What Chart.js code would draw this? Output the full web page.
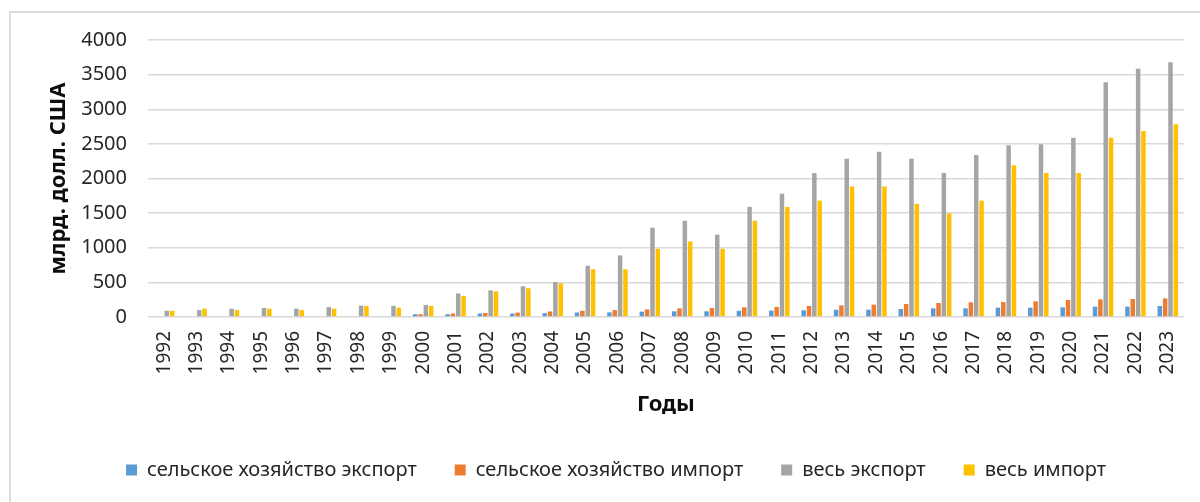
<!DOCTYPE html>
<html>
<head>
<meta charset="utf-8">
<script src="https://cdn.jsdelivr.net/npm/chart.js@4/dist/chart.umd.min.js"></script>
<style>
  html, body { margin: 0; padding: 0; background: #fff; overflow: hidden; }
  #wrap { position: relative; width: 1200px; height: 502px; }
  #frame { position: absolute; left: 9px; top: 11px; width: 1300px; height: 600px;
           border-left: 2px solid #dcdcdc; border-top: 2px solid #dcdcdc; }
  #chart { position: absolute; left: 0; top: 0; }
</style>
</head>
<body>
<div id="wrap">
  <div id="frame"></div>
  <canvas id="chart" width="1200" height="502"></canvas>
</div>
<script>
const years = ['1992', '1993', '1994', '1995', '1996', '1997', '1998', '1999', '2000', '2001',
  '2002', '2003', '2004', '2005', '2006', '2007', '2008', '2009', '2010', '2011',
  '2012', '2013', '2014', '2015', '2016', '2017', '2018', '2019', '2020', '2021', '2022', '2023'];

const agroExport = [null, null, null, null, null, null, null, null, 40, 40,
  50, 50, 55, 65, 67, 77, 82, 82, 90, 92,
  96, 106, 106, 115, 125, 125, 135, 135, 140, 149, 149, 159];

const agroImport = [null, null, null, null, null, null, null, null, 40, 50,
  58, 63, 80, 90, 100, 110, 125, 130, 140, 145,
  160, 168, 178, 188, 202, 212, 216, 226, 245, 255, 260, 269];

const totalExport = [90, 100, 120, 130, 120, 145, 165, 160, 175, 340,
  385, 443, 506, 740, 890, 1290, 1390, 1190, 1590, 1780,
  2080, 2285, 2385, 2285, 2080, 2340, 2480, 2495, 2590, 3390, 3585, 3680];

const totalImport = [90, 120, 100, 120, 100, 120, 160, 135, 160, 305,
  370, 415, 486, 690, 690, 985, 1090, 985, 1390, 1590,
  1680, 1885, 1885, 1635, 1495, 1680, 2190, 2080, 2080, 2590, 2685, 2785];

const yTicks = [0, 500, 1000, 1500, 2000, 2500, 3000, 3500, 4000];

const FONT = '"Noto Sans", "Open Sans", sans-serif';

function series(label, data, color) {
  return {
    label: label,
    data: data,
    backgroundColor: color,
    borderWidth: 0,
    categoryPercentage: 0.66,
    barPercentage: 0.84
  };
}

// legend in the original sits a bit right of the canvas centre
const legendShift = {
  id: 'legendShift',
  afterLayout(chart) {
    chart.legend.left += 24;
    chart.legend.right += 24;
  }
};

new Chart(document.getElementById('chart'), {
  type: 'bar',
  data: {
    labels: years,
    datasets: [
      series('сельское хозяйство экспорт', agroExport, '#5b9bd5'),
      series('сельское хозяйство импорт', agroImport, '#ed7d31'),
      series('весь экспорт', totalExport, '#a5a5a5'),
      series('весь импорт', totalImport, '#ffc000')
    ]
  },
  plugins: [legendShift],
  options: {
    responsive: false,
    animation: false,
    layout: { padding: { left: 0, top: 40, right: 16, bottom: 12 } },
    plugins: {
      tooltip: { enabled: false },
      legend: {
        position: 'bottom',
        labels: {
          color: '#262626',
          font: { family: FONT, size: 20 },
          boxWidth: 11,
          boxHeight: 11,
          padding: 38
        }
      }
    },
    scales: {
      x: {
        grid: { display: false },
        border: { display: false },
        ticks: {
          color: '#262626',
          font: { family: FONT, size: 19 },
          minRotation: 90,
          maxRotation: 90,
          autoSkip: false,
          padding: 6
        },
        title: {
          display: true,
          text: 'Годы',
          color: '#0d0d0d',
          font: { family: FONT, size: 22, weight: 'bold' },
          padding: { top: 0, bottom: 4 }
        },
        afterFit: function (scale) { scale.height = 105; }
      },
      y: {
        min: 0,
        max: 4000,
        afterBuildTicks: function (scale) {
          scale.ticks = yTicks.map(function (v) { return { value: v }; });
        },
        grid: { color: '#d9d9d9', lineWidth: 1.5, drawTicks: false },
        border: { display: false },
        ticks: {
          color: '#262626',
          font: { family: FONT, size: 20 },
          padding: 21,
          callback: function (v) { return String(v); }
        },
        title: {
          display: true,
          text: 'млрд. долл. США',
          color: '#0d0d0d',
          font: { family: FONT, size: 22, weight: 'bold' },
          padding: { top: 46, bottom: 0 }
        },
        afterFit: function (scale) { scale.width = 148; }
      }
    }
  }
});
</script>
</body>
</html>
